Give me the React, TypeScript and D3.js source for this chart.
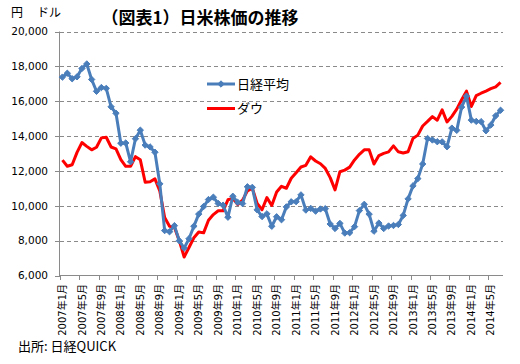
import * as d3 from 'd3';
import React from 'react';

// month-end closes, 2007/1 - 2014/7
const years = [2007, 2008, 2009, 2010, 2011, 2012, 2013, 2014];

const nikkei = [
  17383, 17604, 17288, 17400, 17876, 18138, 17248, 16569, 16785, 16737, 15680, 15308,
  13592, 13603, 12526, 13850, 14339, 13481, 13377, 13073, 11260, 8577, 8512, 8860,
  7994, 7568, 8110, 8828, 9523, 9958, 10357, 10493, 10133, 10034, 9346, 10546,
  10198, 10126, 11090, 11057, 9768, 9383, 9537, 8824, 9369, 9202, 9937, 10229,
  10238, 10624, 9755, 9850, 9694, 9816, 9833, 8955, 8700, 8988, 8435, 8455,
  8803, 9723, 10084, 9521, 8543, 9007, 8695, 8840, 8870, 8928, 9446, 10395,
  11139, 11559, 12398, 13861, 13775, 13677, 13668, 13389, 14456, 14328, 15662, 16291,
  14915, 14841, 14828, 14304, 14632, 15162, 15480,
];

const dow = [
  12621, 12268, 12354, 13063, 13628, 13409, 13212, 13358, 13896, 13930, 13372, 13265,
  12650, 12266, 12263, 12820, 12638, 11350, 11378, 11544, 10851, 9325, 8829, 8776,
  8001, 7063, 7609, 8168, 8500, 8447, 9172, 9496, 9712, 9713, 10345, 10428,
  10067, 10325, 10857, 11009, 10137, 9774, 10466, 10015, 10788, 11118, 11006, 11578,
  11892, 12226, 12320, 12811, 12570, 12414, 12143, 11614, 10913, 11955, 12046, 12218,
  12633, 12952, 13212, 13214, 12393, 12880, 13009, 13091, 13437, 13096, 13026, 13104,
  13861, 14054, 14579, 14840, 15116, 14910, 15500, 14810, 15130, 15546, 16086, 16577,
  15699, 16322, 16458, 16581, 16717, 16827, 17080,
];

const yTicks = [6000, 8000, 10000, 12000, 14000, 16000, 18000, 20000];

// category labels: 2007年1月 ... 2014年7月
const months: string[] = [];
years.forEach(y => {
  for (let m = 1; m <= 12; m++) months.push(`${y}年${m}月`);
});
const categories = months.slice(0, nikkei.length);

const BLUE = '#4a7ebb';
const RED = '#ff0000';
const GRID = '#8a8a8a';
const FONT = '"DejaVu Sans", "Noto Sans CJK JP", sans-serif';
const JFONT = '"Noto Sans CJK JP", sans-serif';

export default function App() {
  const width = 520;
  const height = 364;

  const x = d3.scaleBand<string>()
    .domain(categories)
    .range([60, 503])
    .padding(0);

  const y = d3.scaleLinear()
    .domain([6000, 20000])
    .range([275.5, 31.5]);

  const cx = (i: number) => (x(categories[i]) as number) + x.bandwidth() / 2;

  const line = d3.line<number>()
    .x((d, i) => cx(i))
    .y(d => y(d));

  const diamond = d3.symbol().type(d3.symbolDiamond2).size(26)();

  // ticks and labels every 4 months
  const labelled = categories.filter((d, i) => i % 4 === 0 && i < 89);

  return (
    <svg width={width} height={height}
      style={{ position: 'absolute', left: 0, top: 0, background: '#fff' }}>
      <rect width={width} height={height} fill="#fff" />

      {/* title */}
      <text x={200} y={24} textAnchor="middle" fontFamily={JFONT}
        fontWeight="bold" fontSize={17} fill="#000">（図表1）日米株価の推移</text>
      <text x={11} y={17} fontFamily={JFONT} fontSize={12} fill="#000">円</text>
      <text x={37} y={17} fontFamily={JFONT} fontSize={12} fill="#000">ドル</text>

      {/* grid */}
      {yTicks.filter(t => t > 6000).map(t => (
        <line key={t} x1={60} x2={503} y1={Math.round(y(t)) + 0.5} y2={Math.round(y(t)) + 0.5}
          stroke={GRID} strokeWidth={1} strokeDasharray="4,3" />
      ))}

      {/* y axis */}
      <line x1={59.5} x2={59.5} y1={31.5} y2={276} stroke={GRID} />
      {yTicks.map(t => (
        <g key={t}>
          <line x1={55} x2={60} y1={Math.round(y(t)) + 0.5} y2={Math.round(y(t)) + 0.5} stroke={GRID} />
          <text x={48} y={y(t)} dy="0.36em" textAnchor="end" fontFamily={FONT}
            fontSize={10.5} fill="#000">{d3.format(',')(t)}</text>
        </g>
      ))}

      {/* x axis */}
      <line x1={59.5} x2={503} y1={275.5} y2={275.5} stroke={GRID} />
      {labelled.map(c => {
        const x0 = Math.round(x(c) as number) + 0.5;
        const xc = (x(c) as number) + x.bandwidth() / 2;
        return (
          <g key={c}>
            <line x1={x0} x2={x0} y1={275.5} y2={280} stroke={GRID} />
            <text transform={`translate(${xc},284) rotate(-90)`} dy="0.36em"
              textAnchor="end" fontFamily={FONT} fontSize={10} fill="#000">{c}</text>
          </g>
        );
      })}

      {/* series */}
      <path d={line(dow) as string} fill="none" stroke={RED} strokeWidth={3}
        strokeLinejoin="round" />
      <path d={line(nikkei) as string} fill="none" stroke={BLUE} strokeWidth={3}
        strokeLinejoin="round" />
      {nikkei.map((d, i) => (
        <path key={i} d={diamond as string} transform={`translate(${cx(i)},${y(d)})`}
          fill={BLUE} stroke={BLUE} strokeWidth={1} />
      ))}

      {/* legend */}
      <line x1={207} x2={235} y1={84} y2={84} stroke={BLUE} strokeWidth={3} />
      <path d={diamond as string} transform="translate(221,84)" fill={BLUE} stroke={BLUE} />
      <text x={237} y={89} fontFamily={JFONT} fontSize={13} fill="#000">日経平均</text>
      <line x1={207} x2={235} y1={108.5} y2={108.5} stroke={RED} strokeWidth={3} />
      <text x={237} y={113} fontFamily={JFONT} fontSize={13} fill="#000">ダウ</text>

      {/* source */}
      <text x={18} y={351} fontFamily={JFONT} fontSize={13} fill="#000">出所: 日経QUICK</text>
    </svg>
  );
}
